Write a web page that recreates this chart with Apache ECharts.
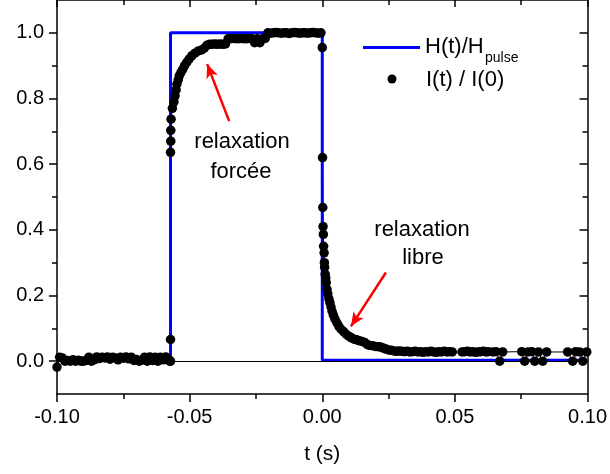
<!DOCTYPE html>
<html><head><meta charset="utf-8">
<script src="https://cdn.jsdelivr.net/npm/echarts@6/dist/echarts.min.js"></script>
<style>html,body{margin:0;padding:0;background:#fff}#c{width:610px;height:474px}</style>
</head><body><div id="c"></div>
<script>
// ---- data: I(t)/I(0) ----
const tPre = [-0.100,-0.099,-0.098,-0.097,-0.096,-0.095,-0.094,-0.093,-0.092,-0.091,-0.090,-0.089,-0.088,-0.087,-0.086,-0.085,-0.084,-0.083,-0.082,-0.081,-0.080,-0.079,-0.078,-0.077,-0.076,-0.075,-0.074,-0.073,-0.072,-0.071,-0.070,-0.069,-0.068,-0.067,-0.066,-0.065,-0.064,-0.063,-0.062,-0.061,-0.060,-0.059,-0.058,-0.0575];
const vPre = [-0.018,0.012,0.010,0.000,0.002,0.000,0.004,0.000,0.003,0.000,0.000,0.002,0.012,0.000,0.004,0.013,0.008,0.012,0.010,0.013,0.006,0.012,0.010,0.004,0.012,0.009,0.013,0.007,0.012,0.002,0.005,0.000,0.003,0.012,0.000,0.013,0.002,0.012,0.000,0.012,0.004,0.013,0.006,0.000];
const tRise = [-0.0572,-0.0572,-0.0572,-0.0571,-0.0571,-0.0570,-0.0565,-0.0559,-0.0555,-0.0551,-0.0548,-0.0543,-0.0539,-0.0533,-0.0526,-0.0519,-0.0511,-0.0502,-0.0492,-0.0480,-0.0467,-0.0455,-0.0445,-0.0435,-0.0425,-0.0415,-0.0405,-0.0395,-0.0385,-0.0375,-0.0365,-0.0355,-0.0345,-0.0335,-0.0325,-0.0315,-0.0305,-0.0295,-0.0285,-0.0275,-0.0265,-0.0255,-0.0245,-0.0235,-0.0225,-0.0215,-0.0205,-0.0195,-0.0185,-0.0175,-0.0165,-0.0155,-0.0145,-0.0135,-0.0125,-0.0115,-0.0105,-0.0095,-0.0085,-0.0075,-0.0065,-0.0055,-0.0045,-0.0035,-0.0025,-0.0015,-0.0005];
const vRise = [0.000,0.066,0.636,0.670,0.703,0.737,0.770,0.790,0.808,0.826,0.844,0.857,0.869,0.879,0.889,0.900,0.910,0.920,0.930,0.938,0.945,0.948,0.953,0.962,0.965,0.965,0.966,0.965,0.966,0.965,0.966,0.982,0.982,0.983,0.982,0.982,0.983,0.982,0.982,0.983,0.982,0.970,0.982,0.970,0.982,0.983,1.000,0.999,1.000,1.001,1.000,0.999,1.000,1.000,0.998,1.000,1.001,1.000,0.999,1.000,1.000,0.999,1.000,1.001,1.000,0.999,1.000];
const tFall = [0.0000,0.0001,0.0002,0.0003,0.0004,0.0005,0.0007,0.0008,0.0009,0.0011,0.0013,0.0015,0.0018,0.0021,0.0025,0.0029,0.0033,0.0037,0.0042,0.0048,0.0055,0.0062,0.0070,0.0080,0.0090,0.0100,0.0110,0.0120,0.0130,0.0140,0.0150,0.0160,0.0170,0.0180,0.0190,0.0200,0.0210,0.0220,0.0230,0.0240,0.0250];
const vFall = [0.955,0.620,0.468,0.410,0.386,0.350,0.330,0.300,0.286,0.265,0.254,0.239,0.219,0.205,0.190,0.178,0.165,0.152,0.140,0.128,0.117,0.107,0.098,0.090,0.082,0.076,0.071,0.067,0.065,0.062,0.060,0.057,0.050,0.048,0.047,0.045,0.044,0.043,0.040,0.037,0.034];
const tTail = [0.026,0.027,0.028,0.029,0.030,0.031,0.032,0.033,0.034,0.035,0.036,0.037,0.038,0.039,0.040,0.041,0.042,0.043,0.044,0.045,0.046,0.047,0.048,0.049,0.0527,0.0537,0.0547,0.0557,0.0567,0.0577,0.0587,0.0597,0.0607,0.0617,0.0625,0.0643,0.0655,0.0669,0.0680,0.0752,0.0763,0.0775,0.0790,0.0801,0.0815,0.0831,0.0846,0.0925,0.0944,0.0955,0.0970,0.0982,0.0997];
const vTail = [0.033,0.031,0.030,0.031,0.030,0.029,0.030,0.028,0.029,0.030,0.028,0.029,0.027,0.029,0.028,0.030,0.028,0.027,0.029,0.028,0.030,0.028,0.029,0.028,0.028,0.029,0.030,0.028,0.029,0.027,0.028,0.029,0.030,0.028,0.029,0.028,0.029,0.000,0.028,0.029,0.000,0.028,0.029,0.000,0.028,0.000,0.028,0.028,0.000,0.029,0.028,0.000,0.028];
// ---- data: H(t)/H_pulse ----
const tH = [-0.100,-0.0572,-0.0572,0.0000,0.0000,0.100];
const vH = [0.010,0.010,1.000,1.000,0.003,0.003];
// ---- axis ticks ----
const yMajor = [0.0,0.2,0.4,0.6,0.8,1.0];
const yMinor = [0.1,0.3,0.5,0.7,0.9];

const tI = tPre.concat(tRise, tFall, tTail);
const vI = vPre.concat(vRise, vFall, vTail);
const dataI = tI.map((t,i)=>[t, vI[i]]);
const dataH = tH.map((t,i)=>[t, vH[i]]);

const FONT = 'Liberation Sans';
const chart = echarts.init(document.getElementById('c'), null, {renderer:'canvas'});
const axLine = {show:true, onZero:false, lineStyle:{color:'#000', width:1.5}};
const noLine = {show:false, onZero:false};
const baseX = {type:'value', min:-0.1, max:0.1, interval:0.05, splitLine:{show:false}, axisLine:axLine};
const baseY = {type:'value', min:-0.1, max:1.1, interval:0.1, splitLine:{show:false}};
chart.setOption({
  animation:false,
  grid:{left:57, right:22, top:-1, bottom:80},
  xAxis:[
    Object.assign({}, baseX, {position:'bottom',
      axisTick:{show:true, inside:false, length:8, lineStyle:{color:'#000', width:1.5}},
      minorTick:{show:true, splitNumber:2, length:5, lineStyle:{color:'#000', width:1.5}},
      axisLabel:{show:true, margin:13, formatter:v=>v.toFixed(2), color:'#000', fontSize:20, fontFamily:FONT},
      name:'t (s)', nameLocation:'middle', nameGap:50, nameTextStyle:{color:'#000', fontSize:21, fontFamily:FONT}}),
    Object.assign({}, baseX, {position:'top',
      axisTick:{show:true, inside:true, length:7, lineStyle:{color:'#000', width:1.5}},
      minorTick:{show:true, splitNumber:2, length:5, lineStyle:{color:'#000', width:1.5}},
      axisLabel:{show:false}})
  ],
  yAxis:[
    Object.assign({}, baseY, {position:'left', axisLine:axLine,
      axisTick:{show:true, inside:false, length:8, customValues:yMajor, lineStyle:{color:'#000', width:1.5}},
      axisLabel:{show:true, margin:13, customValues:yMajor, formatter:v=>v.toFixed(1), color:'#000', fontSize:20, fontFamily:FONT}}),
    Object.assign({}, baseY, {position:'right', axisLine:axLine,
      axisTick:{show:true, inside:true, length:8, customValues:yMajor, lineStyle:{color:'#000', width:1.5}},
      axisLabel:{show:false}}),
    Object.assign({}, baseY, {position:'left', axisLine:noLine,
      axisTick:{show:true, inside:false, length:5, customValues:yMinor, lineStyle:{color:'#000', width:1.5}},
      axisLabel:{show:false}}),
    Object.assign({}, baseY, {position:'right', axisLine:noLine,
      axisTick:{show:true, inside:true, length:5, customValues:yMinor, lineStyle:{color:'#000', width:1.5}},
      axisLabel:{show:false}})
  ],
  series:[
    {type:'line', name:'I line', data:dataI, xAxisIndex:0, yAxisIndex:0, z:1, symbol:'none', silent:true,
      lineStyle:{color:'#000', width:1},
      markLine:{silent:true, symbol:'none', label:{show:false}, lineStyle:{color:'#000', width:1, type:'solid'},
        data:[[{coord:[-0.1,0]},{coord:[0.1,0]}]]}},
    {type:'line', name:'H(t)/H_pulse', data:dataH, xAxisIndex:0, yAxisIndex:0, z:2, symbol:'none', silent:true,
      lineStyle:{color:'#0000ff', width:3}},
    {type:'scatter', name:'I(t) / I(0)', data:dataI, xAxisIndex:0, yAxisIndex:0, z:3, symbol:'circle', symbolSize:9.5, silent:true,
      itemStyle:{color:'#000', opacity:1},
      markLine:{silent:true, label:{show:false}, lineStyle:{color:'#ff0000', width:2.5, type:'solid'}, symbolSize:[9,14],
        data:[
          [{coord:[-0.0351,0.731], symbol:'none'},{coord:[-0.0434,0.905], symbol:'arrow'}],
          [{coord:[0.0240,0.270], symbol:'none'},{coord:[0.0108,0.106], symbol:'arrow'}]
        ]}}
  ],
  graphic:[
    {type:'text', x:242, y:142, style:{text:'relaxation', align:'center', verticalAlign:'middle', fontSize:22, fontFamily:FONT, fill:'#000'}},
    {type:'text', x:241, y:172, style:{text:'forcée', align:'center', verticalAlign:'middle', fontSize:22, fontFamily:FONT, fill:'#000'}},
    {type:'text', x:422, y:230, style:{text:'relaxation', align:'center', verticalAlign:'middle', fontSize:22, fontFamily:FONT, fill:'#000'}},
    {type:'text', x:423, y:258, style:{text:'libre', align:'center', verticalAlign:'middle', fontSize:22, fontFamily:FONT, fill:'#000'}},
    {type:'line', shape:{x1:363, y1:47.5, x2:420, y2:47.5}, style:{stroke:'#0000ff', lineWidth:3}},
    {type:'text', x:425, y:47, style:{text:'H(t)/H', align:'left', verticalAlign:'middle', fontSize:22, fontFamily:FONT, fill:'#000'}},
    {type:'text', x:485, y:58.5, style:{text:'pulse', align:'left', verticalAlign:'middle', fontSize:14, fontFamily:FONT, fill:'#000'}},
    {type:'circle', shape:{cx:392, cy:79, r:4.5}, style:{fill:'#000'}},
    {type:'text', x:426, y:79.5, style:{text:'I(t) / I(0)', align:'left', verticalAlign:'middle', fontSize:22, fontFamily:FONT, fill:'#000'}}
  ]
});
</script></body></html>
